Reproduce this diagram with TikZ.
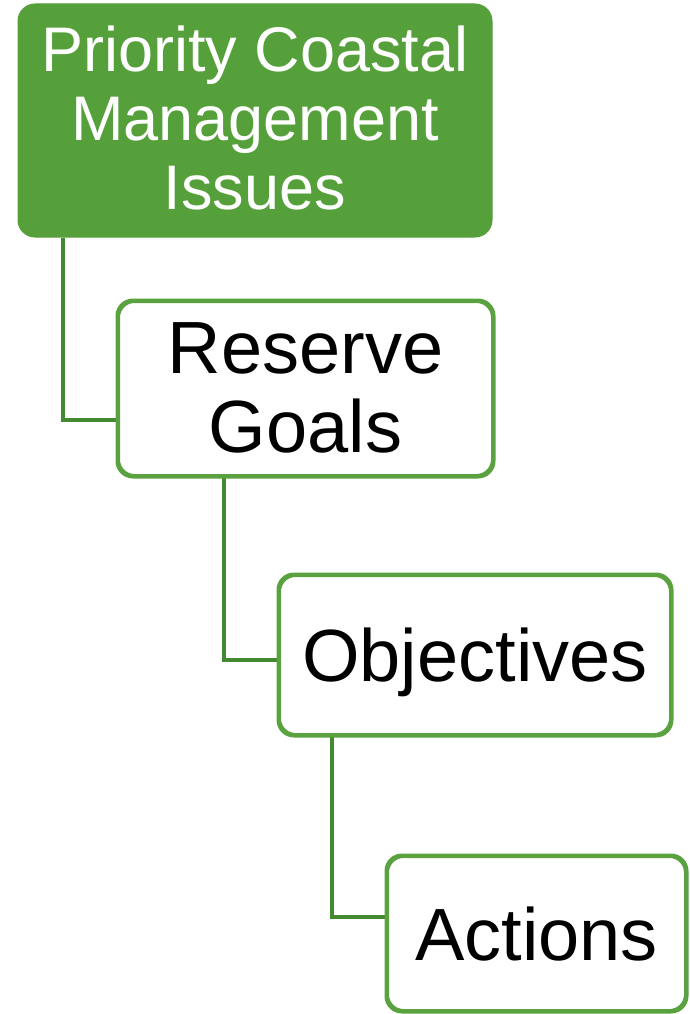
\documentclass[tikz,border=0pt]{standalone}
\usepackage{fontspec}
\setmainfont{Liberation Sans}
\definecolor{gfill}{HTML}{55A03B}
\definecolor{gborder}{HTML}{5AA13F}
\definecolor{gline}{HTML}{43892F}
\begin{document}
\begin{tikzpicture}[x=1pt,y=-1pt,
  topbox/.style={draw=gfill,fill=gfill,line width=1pt,rounded corners=17pt,inner sep=0pt,
    text=white,align=center,text depth=0pt,font=\fontsize{63}{69}\selectfont},
  subbox/.style={draw=gborder,fill=white,line width=3pt,rounded corners=16pt,inner sep=0pt,
    text=black,align=center,text depth=0pt,font=\fontsize{74}{79}\selectfont},
  boxedge/.style={draw=gborder,line width=3pt,rounded corners=16pt},
  conn/.style={draw=gline,line width=3.5pt}]
\useasboundingbox (0,0) rectangle (689,1014);
\node[topbox,text height=177pt,minimum width=474pt,minimum height=233pt] (b1) at (255,120.5)
  {Priority Coastal\\Management\\Issues};
\node[subbox,text height=127pt,minimum width=374pt,minimum height=174pt] (b2) at (305.5,388.5)
  {Reserve\\Goals};
\node[subbox,text height=52pt,minimum width=391pt,minimum height=159pt] (b3) at (475,655)
  {Objectives};
\node[subbox,text height=53pt,minimum width=298pt,minimum height=154pt] (b4) at (536.5,933.5)
  {Actions};
\coordinate (c1) at (63,420);
\coordinate (c2) at (224,660);
\coordinate (c3) at (332,917);
\draw[conn] (b1.south -| c1) -- (c1) -- (c1 -| b2.west);
\draw[conn] (b2.south -| c2) -- (c2) -- (c2 -| b3.west);
\draw[conn] (b3.south -| c3) -- (c3) -- (c3 -| b4.west);
\draw[boxedge] (b2.south west) rectangle (b2.north east);
\draw[boxedge] (b3.south west) rectangle (b3.north east);
\draw[boxedge] (b4.south west) rectangle (b4.north east);
\end{tikzpicture}
\end{document}
